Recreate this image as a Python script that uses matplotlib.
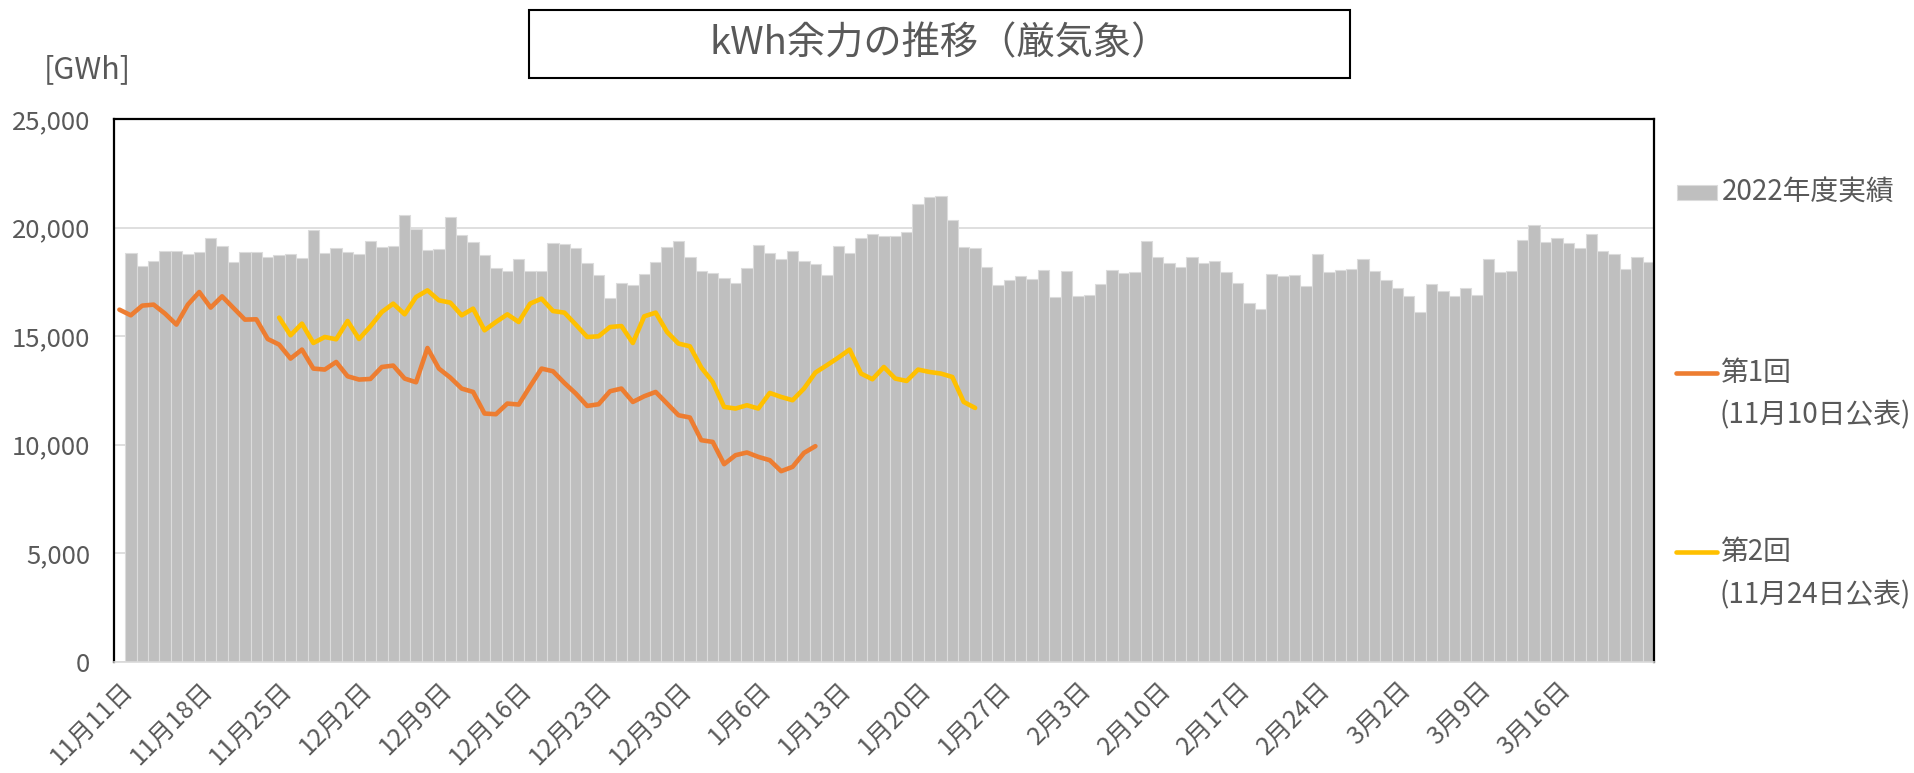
import numpy as np
import pandas as pd
import matplotlib
matplotlib.use("Agg")
import matplotlib.pyplot as plt
from matplotlib.patches import Rectangle
from matplotlib.lines import Line2D

plt.rcParams['font.family'] = ['Noto Sans CJK JP', 'DejaVu Sans']

# ---- data ----
dates = pd.date_range("2023-11-11", "2024-03-24", freq="D")
categories = [f"{d.month}月{d.day}日" for d in dates]

actual_2022 = [np.nan,
    18822, 18223, 18453, 18914, 18914, 18775, 18867, 19530, 19144, 18407,
    18867, 18867, 18637, 18729, 18775, 18591, 19880, 18822, 19051, 18867,
    18775, 19374, 19116, 19144, 20557, 19926, 18959, 19005, 20465, 19668,
    19328, 18729, 18131, 17993, 18545, 17993, 17993, 19300, 19236, 19051,
    18361, 17808, 16768, 17426, 17334, 17854, 18407, 19116, 19392, 18637,
    17993, 17900, 17656, 17426, 18131, 19208, 18822, 18545, 18931, 18453,
    18315, 17808, 19162, 18822, 19530, 19714, 19622, 19622, 19806, 21077,
    21400, 21446, 20327, 19116, 19070, 18177, 17334, 17564, 17762, 17610,
    18039, 16814, 17993, 16860, 16906, 17380, 18039, 17900, 17946, 19392,
    18655, 18361, 18177, 18655, 18361, 18453, 17946, 17426, 16538, 16262,
    17854, 17762, 17808, 17288, 18793, 17946, 18039, 18085, 18545, 17993,
    17564, 17196, 16860, 16123, 17380, 17058, 16860, 17196, 16906, 18545,
    17946, 17993, 19438, 20097, 19346, 19530, 19300, 19070, 19714, 18931,
    18775, 18085, 18655, 18407]

round1_start = 0
round1 = [16214, 15953, 16400, 16446, 16031, 15525, 16446, 17027, 16308, 16828,
          16289, 15755, 15770, 14862, 14604, 13959, 14374, 13499, 13453, 13803,
          13144, 12993, 13021, 13572, 13637, 13039, 12868, 14447, 13499, 13085,
          12578, 12422, 11427, 11395, 11887, 11841, 12684, 13499, 13375, 12836,
          12348, 11777, 11855, 12454, 12578, 11961, 12224, 12422, 11887, 11349,
          11243, 10198, 10120, 9093, 9507, 9632, 9429, 9277, 8771, 8969,
          9613, 9922]

round2_start = 14
round2 = [15847, 15032, 15571, 14678, 14954, 14848, 15691, 14862, 15446, 16105,
          16492, 15999, 16796, 17104, 16644, 16538, 15953, 16262, 15262, 15644,
          15999, 15644, 16492, 16722, 16151, 16077, 15525, 14954, 14986, 15414,
          15460, 14678, 15907, 16077, 15184, 14650, 14526, 13545, 12882, 11731,
          11657, 11809, 11657, 12376, 12191, 12040, 12578, 13315, 13651, 14000,
          14374, 13269, 13006, 13572, 13039, 12928, 13453, 13342, 13269, 13112,
          11961, 11685]

title = "kWh余力の推移（厳気象）"
unit_label = "[GWh]"
legend_labels = ["2022年度実績", "第1回", "(11月10日公表)", "第2回", "(11月24日公表)"]

# ---- figure ----
W, H = 1915, 773
fig = plt.figure(figsize=(W / 100, H / 100), dpi=100)
ax = fig.add_axes([113.7 / W, 1 - 661.5 / H, (1654 - 113.7) / W, (661.5 - 119) / H])

TXT = '#595959'
BAR = '#bfbfbf'
ORANGE = '#ED7D31'
YELLOW = '#FFC000'

x = np.arange(len(categories))
ax.bar(x, actual_2022, width=1.0, color=BAR, edgecolor='#dcdcdc', linewidth=0.8, zorder=2)
ax.plot(np.arange(round1_start, round1_start + len(round1)), round1,
        color=ORANGE, lw=3.3, solid_joinstyle='round', solid_capstyle='round', zorder=3)
ax.plot(np.arange(round2_start, round2_start + len(round2)), round2,
        color=YELLOW, lw=3.3, solid_joinstyle='round', solid_capstyle='round', zorder=3)

ax.set_xlim(-0.5, len(categories) - 0.5)
ax.set_ylim(0, 25000)
ax.set_yticks(np.arange(0, 25001, 5000))
ax.set_yticklabels([f"{v:,}" for v in range(0, 25001, 5000)])
ax.yaxis.grid(True, color='#d9d9d9', lw=1.2, zorder=0)
ax.set_axisbelow(True)

tick_idx = list(range(0, len(categories) - 7, 7))
ax.set_xticks(tick_idx)
ax.set_xticklabels([categories[i] for i in tick_idx], rotation=45, ha='right', va='top',
                   rotation_mode='anchor')
ax.tick_params(axis='both', length=0, labelcolor=TXT)
ax.tick_params(axis='y', pad=17, labelsize=18.5)
ax.tick_params(axis='x', pad=11, labelsize=18)

for s in ['left', 'top', 'right']:
    ax.spines[s].set_color('black')
    ax.spines[s].set_linewidth(1.6)
ax.spines['bottom'].set_color('#d9d9d9')
ax.spines['bottom'].set_linewidth(1.2)

# unit label
fig.text(44 / W, 1 - 70 / H, unit_label, fontsize=22, color=TXT, ha='left', va='center')

# title box
fig.patches.append(Rectangle((529 / W, 1 - 78 / H), (1350 - 529) / W, 68 / H,
                             transform=fig.transFigure, fill=False, edgecolor='black', lw=1.5))
fig.text(940 / W, 1 - 44 / H, title, fontsize=27.5, color=TXT, ha='center', va='center')

# legend (manual)
LFS = 20
fig.patches.append(Rectangle((1677 / W, 1 - 200 / H), 40 / W, 15 / H,
                             transform=fig.transFigure, facecolor=BAR, edgecolor='#dcdcdc', lw=0.8))
fig.text(1722 / W, 1 - 192 / H, legend_labels[0], fontsize=LFS, color=TXT, ha='left', va='center')
fig.lines.append(Line2D([1676 / W, 1717 / W], [1 - 373 / H, 1 - 373 / H], transform=fig.transFigure,
                        color=ORANGE, lw=3.3, solid_capstyle='round'))
fig.text(1720 / W, 1 - 373 / H, legend_labels[1], fontsize=LFS, color=TXT, ha='left', va='center')
fig.text(1720 / W, 1 - 415 / H, legend_labels[2], fontsize=LFS, color=TXT, ha='left', va='center')
fig.lines.append(Line2D([1676 / W, 1717 / W], [1 - 552 / H, 1 - 552 / H], transform=fig.transFigure,
                        color=YELLOW, lw=3.3, solid_capstyle='round'))
fig.text(1720 / W, 1 - 552 / H, legend_labels[3], fontsize=LFS, color=TXT, ha='left', va='center')
fig.text(1720 / W, 1 - 595 / H, legend_labels[4], fontsize=LFS, color=TXT, ha='left', va='center')

fig.savefig("out.png", dpi=100, facecolor='white')
